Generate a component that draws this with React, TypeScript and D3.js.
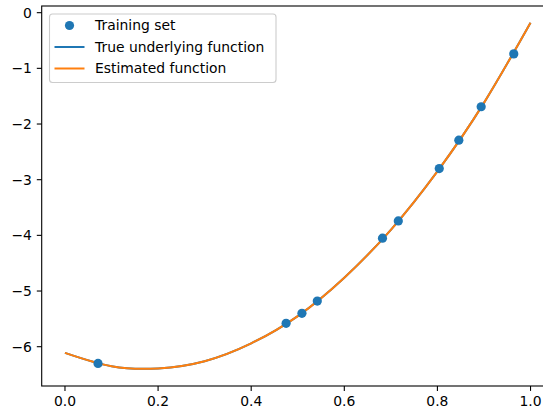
import React from "react";
import * as d3 from "d3";

// Training set points
const trainX = [0.071, 0.475, 0.509, 0.542, 0.682, 0.716, 0.804, 0.846, 0.894, 0.964];
const trainY = [-6.30, -5.58, -5.40, -5.18, -4.05, -3.74, -2.80, -2.29, -1.69, -0.74];

// Curve samples
const curveX = [0.0, 0.1, 0.2, 0.3, 0.4, 0.5, 0.6, 0.7, 0.8, 0.9, 1.0];
const trueY = [-6.11, -6.35, -6.39, -6.26, -5.94, -5.45, -4.76, -3.90, -2.85, -1.62, -0.18];
const estY = [-6.11, -6.35, -6.39, -6.26, -5.94, -5.45, -4.76, -3.90, -2.85, -1.62, -0.18];

const xTicks = [0.0, 0.2, 0.4, 0.6, 0.8, 1.0];
const yTicks = [0, -1, -2, -3, -4, -5, -6];
const legendLabels = ["Training set", "True underlying function", "Estimated function"];

const W = 543;
const H = 413;
const L = 41.7, R = 553.8, T = 6, B = 386;
const FONT = "DejaVu Sans, sans-serif";
const FS = 13.9;

export default function App() {
  const x = d3.scaleLinear().domain([-0.05, 1.05]).range([L, R]);
  const y = d3.scaleLinear().domain([-6.706, 0.12]).range([B, T]);
  const fmtX = d3.format(".1f");
  const fmtY = d3.format("d");

  const line = d3
    .line<number>()
    .x((_, i) => x(curveX[i]))
    .y((d) => y(d))
    .curve(d3.curveNatural);

  const blue = "#1f77b4";
  const orange = "#ff7f0e";

  return (
    <svg
      width={W}
      height={H}
      style={{ position: "absolute", left: 0, top: 0, background: "#fff" }}
      fontFamily={FONT}
    >
      <defs>
        <clipPath id="clip">
          <rect x={L} y={T} width={R - L} height={B - T} />
        </clipPath>
      </defs>
      <rect x={0} y={0} width={W} height={H} fill="#fff" />
      <g clipPath="url(#clip)">
        <path d={line(trueY) || ""} fill="none" stroke={blue} strokeWidth={2} />
        <path d={line(estY) || ""} fill="none" stroke={orange} strokeWidth={2} />
        {trainX.map((d, i) => (
          <circle key={i} cx={x(d)} cy={y(trainY[i])} r={4.6} fill={blue} />
        ))}
      </g>
      {/* spines */}
      <rect x={L} y={T} width={R - L} height={B - T} fill="none" stroke="#000" strokeWidth={1.1} />
      {/* x ticks */}
      {xTicks.map((t) => (
        <g key={"x" + t}>
          <line x1={x(t)} x2={x(t)} y1={B} y2={B + 4.9} stroke="#000" strokeWidth={1.1} />
          <text x={x(t)} y={B + 20.2} textAnchor="middle" fontSize={FS} fill="#000">
            {fmtX(t)}
          </text>
        </g>
      ))}
      {/* y ticks */}
      {yTicks.map((t) => (
        <g key={"y" + t}>
          <line x1={L} x2={L - 4.9} y1={y(t)} y2={y(t)} stroke="#000" strokeWidth={1.1} />
          <text x={L - 9.8} y={y(t)} dy="0.35em" textAnchor="end" fontSize={FS} fill="#000">
            {fmtY(t)}
          </text>
        </g>
      ))}
      {/* legend */}
      <g>
        <rect
          x={49.5}
          y={14}
          width={226.5}
          height={68.5}
          rx={3}
          fill="#fff"
          fillOpacity={0.8}
          stroke="#cccccc"
          strokeWidth={1.1}
        />
        <circle cx={69.5} cy={25.5} r={4.6} fill={blue} />
        <line x1={54.5} x2={84.5} y1={47} y2={47} stroke={blue} strokeWidth={2} />
        <line x1={54.5} x2={84.5} y1={68.5} y2={68.5} stroke={orange} strokeWidth={2} />
        {legendLabels.map((s, i) => (
          <text key={s} x={95} y={25.5 + i * 21.5} dy="0.35em" fontSize={FS} fill="#000">
            {s}
          </text>
        ))}
      </g>
    </svg>
  );
}
